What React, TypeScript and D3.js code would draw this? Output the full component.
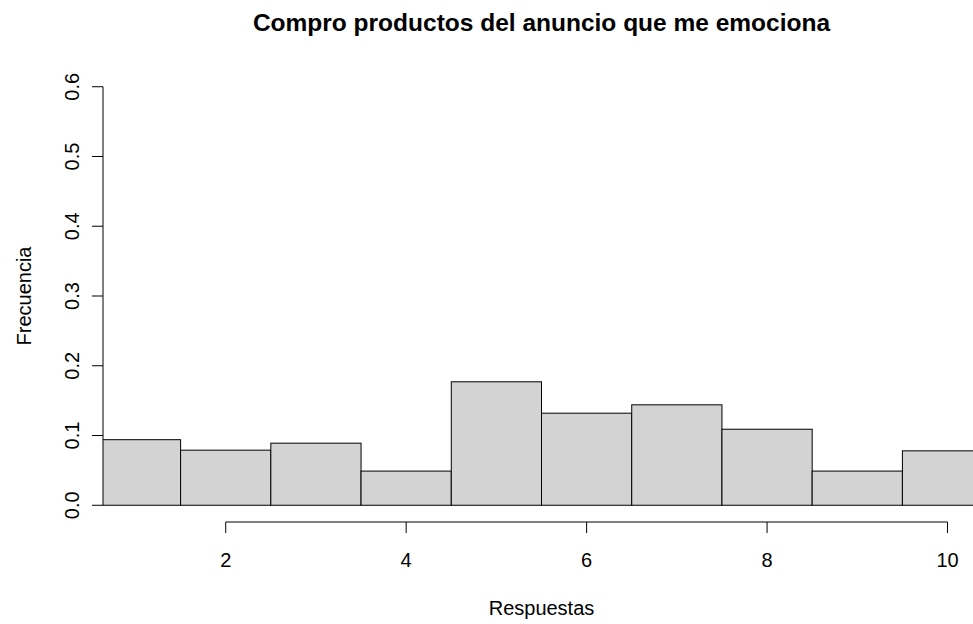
import React from "react";
import * as d3 from "d3";

// Relative frequency per response value (1..10)
const categories = [1, 2, 3, 4, 5, 6, 7, 8, 9, 10];
const frequencies = [0.094, 0.079, 0.089, 0.049, 0.177, 0.132, 0.144, 0.109, 0.049, 0.078];
const xTicks = [2, 4, 6, 8, 10];
const yTicks = [0, 0.1, 0.2, 0.3, 0.4, 0.5, 0.6];

const title = "Compro productos del anuncio que me emociona";
const xLabel = "Respuestas";
const yLabel = "Frecuencia";

const W = 973;
const H = 624;
const plot = { left: 103, right: 980, top: 70, bottom: 522 };
const font = "'Liberation Sans', Arial, sans-serif";
const tick = 11;

export default function App() {
  // x domain padded 4% like base graphics (xlim 1..10)
  const x = d3.scaleLinear().domain([0.64, 10.36]).range([plot.left, plot.right]);
  const y = d3.scaleLinear().domain([-0.024, 0.624]).range([plot.bottom, plot.top]);
  const fmt = d3.format(".1f");
  const cx = (plot.left + plot.right) / 2;

  return (
    <svg
      width={W}
      height={H}
      style={{ position: "absolute", left: 0, top: 0, background: "#fff" }}
      fontFamily={font}
    >
      <defs>
        <clipPath id="plotClip">
          <rect x={plot.left} y={plot.top} width={plot.right - plot.left} height={plot.bottom - plot.top} />
        </clipPath>
      </defs>

      <g clipPath="url(#plotClip)">
        {categories.map((c, i) => (
          <rect
            key={c}
            x={x(c - 0.5)}
            y={y(frequencies[i])}
            width={x(c + 0.5) - x(c - 0.5)}
            height={y(0) - y(frequencies[i])}
            fill="#D3D3D3"
            stroke="#000"
            strokeWidth={1}
          />
        ))}
      </g>

      {/* x axis */}
      <g stroke="#000" strokeWidth={1} fill="none">
        <line x1={x(xTicks[0])} x2={x(xTicks[xTicks.length - 1])} y1={plot.bottom} y2={plot.bottom} />
        {xTicks.map((t) => (
          <line key={t} x1={x(t)} x2={x(t)} y1={plot.bottom} y2={plot.bottom + tick} />
        ))}
      </g>
      {xTicks.map((t) => (
        <text key={t} x={x(t)} y={567} textAnchor="middle" fontSize={20} fill="#000">
          {t}
        </text>
      ))}

      {/* y axis */}
      <g stroke="#000" strokeWidth={1} fill="none">
        <line x1={plot.left} x2={plot.left} y1={y(0)} y2={y(0.6)} />
        {yTicks.map((t) => (
          <line key={t} x1={plot.left} x2={plot.left - tick} y1={y(t)} y2={y(t)} />
        ))}
      </g>
      {yTicks.map((t) => (
        <text
          key={t}
          transform={`translate(79,${y(t)}) rotate(-90)`}
          textAnchor="middle"
          fontSize={20}
          fill="#000"
        >
          {fmt(t)}
        </text>
      ))}

      {/* labels */}
      <text x={cx} y={31} textAnchor="middle" fontSize={24.5} fontWeight="bold" fill="#000">
        {title}
      </text>
      <text x={cx} y={615} textAnchor="middle" fontSize={20} fill="#000">
        {xLabel}
      </text>
      <text
        transform={`translate(31,${(plot.top + plot.bottom) / 2}) rotate(-90)`}
        textAnchor="middle"
        fontSize={20}
        fill="#000"
      >
        {yLabel}
      </text>
    </svg>
  );
}
